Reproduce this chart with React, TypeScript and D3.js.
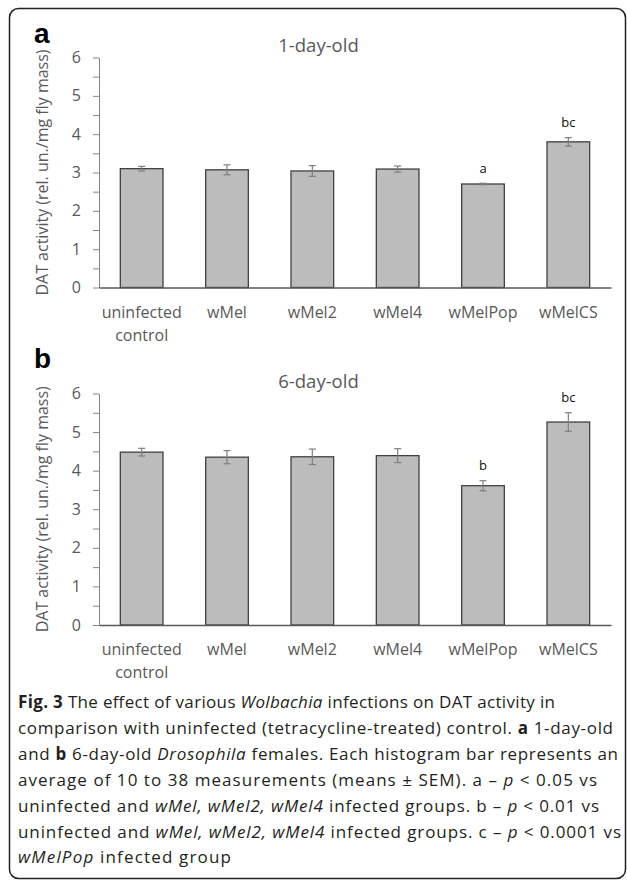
import React, { useEffect, useRef } from "react";
import * as d3 from "d3";

// categories (x axis) and values
const categories = ["uninfected control", "wMel", "wMel2", "wMel4", "wMelPop", "wMelCS"];
const day1Means = [3.1, 3.07, 3.04, 3.09, 2.7, 3.8];
const day1Sem = [0.06, 0.13, 0.14, 0.08, 0.02, 0.11];
const day1Sig = ["", "", "", "", "a", "bc"];
const day6Means = [4.48, 4.35, 4.36, 4.39, 3.61, 5.26];
const day6Sem = [0.1, 0.17, 0.2, 0.18, 0.13, 0.24];
const day6Sig = ["", "", "", "", "b", "bc"];
const yTicks = [0, 0.5, 1, 1.5, 2, 2.5, 3, 3.5, 4, 4.5, 5, 5.5, 6];

// caption, one array of [text, style] per printed line
const captionLines = [
  [["Fig. 3", "b"], [" The effect of various ", "n"], ["Wolbachia", "i"], [" infections on DAT activity in", "n"]],
  [["comparison with uninfected (tetracycline-treated) control. ", "n"], ["a", "b"], [" 1-day-old", "n"]],
  [["and ", "n"], ["b", "b"], [" 6-day-old ", "n"], ["Drosophila", "i"], [" females. Each histogram bar represents an", "n"]],
  [["average of 10 to 38 measurements (means \u00b1 SEM). a \u2013 ", "n"], ["p", "i"], [" < 0.05 vs", "n"]],
  [["uninfected and ", "n"], ["wMel, wMel2, wMel4", "i"], [" infected groups. b \u2013 ", "n"], ["p", "i"], [" < 0.01 vs", "n"]],
  [["uninfected and ", "n"], ["wMel, wMel2, wMel4", "i"], [" infected groups. c \u2013 ", "n"], ["p", "i"], [" < 0.0001 vs", "n"]],
  [["wMelPop", "i"], [" infected group", "n"]],
];
const captionEnds = [555, 613, 618, 597, 599, 621, 231];

const FONT = "'Open Sans', sans-serif";
const GREY = "#595959";

export default function App() {
  const ref = useRef<SVGSVGElement>(null);

  useEffect(() => {
    const svg = d3.select(ref.current);
    svg.selectAll("*").remove();

    // rounded frame round the whole figure
    svg
      .append("rect")
      .attr("x", 9.5)
      .attr("y", 8.5)
      .attr("width", 616)
      .attr("height", 870)
      .attr("rx", 9)
      .attr("fill", "none")
      .attr("stroke", "#222")
      .attr("stroke-width", 1.5);

    const x = d3
      .scaleBand()
      .domain(categories)
      .range([99, 611])
      .paddingInner(0.5)
      .paddingOuter(0.25);

    function drawPanel(opts) {
      const { means, sems, sigs, title, letter, letterY, top, bottom } = opts;
      const y = d3.scaleLinear().domain([0, 6]).range([bottom, top]);
      const g = svg.append("g");

      // y axis
      const yAxis = g
        .append("g")
        .attr("transform", "translate(99,0)")
        .call(
          d3
            .axisLeft(y)
            .tickValues(yTicks)
            .tickFormat((d) => (Number.isInteger(d) ? String(d) : ""))
            .tickSize(6)
            .tickSizeOuter(0)
            .tickPadding(12)
        );
      yAxis.select(".domain").attr("stroke", "#868686");
      yAxis.selectAll(".tick line").attr("stroke", "#868686");
      yAxis
        .selectAll(".tick text")
        .attr("fill", GREY)
        .style("font-family", FONT)
        .style("font-size", "16px");

      // bars
      g.append("g")
        .selectAll("rect")
        .data(means)
        .join("rect")
        .attr("x", (d, i) => x(categories[i]))
        .attr("y", (d) => y(d))
        .attr("width", x.bandwidth())
        .attr("height", (d) => y(0) - y(d))
        .attr("fill", "#bcbcbc")
        .attr("stroke", "#404040")
        .attr("stroke-width", 1.3);

      // error bars
      const eb = g
        .append("g")
        .attr("stroke", "#7f7f7f")
        .attr("stroke-width", 1.2)
        .selectAll("g")
        .data(means)
        .join("g")
        .attr("transform", (d, i) => `translate(${x(categories[i]) + x.bandwidth() / 2},0)`);
      eb.append("line")
        .attr("y1", (d, i) => y(d + sems[i]))
        .attr("y2", (d, i) => y(d - sems[i]));
      eb.append("line")
        .attr("x1", -3.5)
        .attr("x2", 3.5)
        .attr("y1", (d, i) => y(d + sems[i]))
        .attr("y2", (d, i) => y(d + sems[i]));
      eb.append("line")
        .attr("x1", -3.5)
        .attr("x2", 3.5)
        .attr("y1", (d, i) => y(d - sems[i]))
        .attr("y2", (d, i) => y(d - sems[i]));

      // significance letters
      g.append("g")
        .selectAll("text")
        .data(means)
        .join("text")
        .attr("x", (d, i) => x(categories[i]) + x.bandwidth() / 2)
        .attr("y", (d, i) => y(d + sems[i]) - 10.5)
        .attr("text-anchor", "middle")
        .style("font-family", FONT)
        .style("font-size", "13px")
        .attr("fill", "#111")
        .text((d, i) => sigs[i]);

      // x axis line + category labels
      const xAxis = g
        .append("g")
        .attr("transform", `translate(0,${y(0)})`)
        .call(d3.axisBottom(x).tickSize(0).tickSizeOuter(0));
      xAxis.select(".domain").attr("stroke", GREY).attr("stroke-width", 1.4);
      xAxis.selectAll(".tick text").remove();
      xAxis
        .selectAll(".tick")
        .append("text")
        .attr("text-anchor", "middle")
        .attr("fill", GREY)
        .style("font-family", FONT)
        .style("font-size", "16px")
        .selectAll("tspan")
        .data((d) => d.split(" "))
        .join("tspan")
        .attr("x", 0)
        .attr("y", (d, i) => 30 + i * 23)
        .text((d) => d);

      // y axis title
      g.append("text")
        .attr("transform", `translate(44,${(top + bottom) / 2}) rotate(-90)`)
        .attr("text-anchor", "middle")
        .attr("dominant-baseline", "middle")
        .attr("fill", GREY)
        .style("font-family", FONT)
        .style("font-size", "16px")
        .text("DAT activity (rel. un./mg fly mass)");

      // panel title
      g.append("text")
        .attr("x", 318.5)
        .attr("y", top - 6)
        .attr("text-anchor", "middle")
        .attr("fill", GREY)
        .style("font-family", FONT)
        .style("font-size", "18.5px")
        .text(title);

      // panel letter
      g.append("text")
        .attr("x", 34)
        .attr("y", letterY)
        .attr("fill", "#000")
        .style("font-family", "'Liberation Sans', Arial, sans-serif")
        .style("font-weight", "bold")
        .style("font-size", "28px")
        .text(letter);
    }

    drawPanel({
      means: day1Means,
      sems: day1Sem,
      sigs: day1Sig,
      title: "1-day-old",
      letter: "a",
      letterY: 43,
      top: 57.5,
      bottom: 287.5,
    });
    drawPanel({
      means: day6Means,
      sems: day6Sem,
      sigs: day6Sig,
      title: "6-day-old",
      letter: "b",
      letterY: 368,
      top: 393.5,
      bottom: 625,
    });

    // caption
    const cap = svg
      .append("g")
      .style("font-family", FONT)
      .style("font-size", "17px")
      .attr("fill", "#231f20");
    captionLines.forEach((line, li) => {
      const t = cap
        .append("text")
        .attr("x", 18)
        .attr("y", 708 + li * 25.9)
        .attr("textLength", captionEnds[li] - 18)
        .attr("lengthAdjust", "spacing");
      line.forEach(([txt, st]) => {
        t.append("tspan")
          .attr("font-style", st === "i" ? "italic" : "normal")
          .attr("font-weight", st === "b" ? "bold" : "normal")
          .text(txt);
      });
    });
  }, []);

  return (
    <svg
      ref={ref}
      width={627}
      height={881}
      style={{ position: "absolute", left: 0, top: 0, background: "#fff" }}
    ></svg>
  );
}
